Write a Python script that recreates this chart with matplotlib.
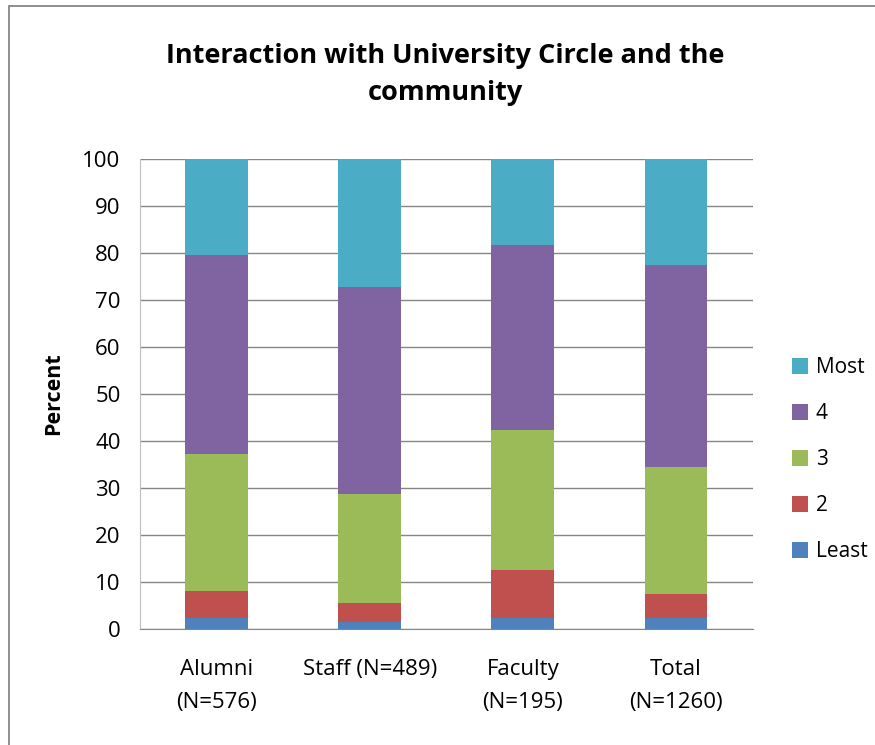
import matplotlib
matplotlib.use("Agg")
import matplotlib.pyplot as plt
from matplotlib.patches import Rectangle

plt.rcParams['font.family'] = ['Open Sans', 'DejaVu Sans']

# data (percent of respondents per group)
groups = ["Alumni\n(N=576)", "Staff (N=489)", "Faculty\n(N=195)", "Total\n(N=1260)"]
levels = ["Least", "2", "3", "4", "Most"]
least = [2.2, 1.5, 2.2, 2.2]
two = [5.9, 4.0, 10.4, 5.2]
three = [29.0, 23.1, 29.6, 27.1]
four = [42.4, 44.1, 39.5, 42.9]
most = [20.5, 27.3, 18.3, 22.6]
colors = ["#4F81BD", "#C0504D", "#9BBB59", "#8064A2", "#4BACC6"]

fig = plt.figure(figsize=(8.75, 7.45), dpi=100)
ax = fig.add_axes([0.16, 0.156, 0.70, 0.631])

# outer chart border (right and bottom edges fall outside the image)
fig.patches.append(Rectangle((0.010, -0.1), 1.2, 1.092, transform=fig.transFigure,
                             fill=False, edgecolor="#868686", linewidth=1.3))

x = range(len(groups))
bottom = [0.0] * len(groups)
handles = []
for vals, lab, col in zip([least, two, three, four, most], levels, colors):
    b = ax.bar(x, vals, width=0.41, bottom=bottom, color=col, label=lab, zorder=3)
    handles.append(b)
    bottom = [p + v for p, v in zip(bottom, vals)]

ax.set_ylim(0, 100)
ax.set_xlim(-0.5, 3.5)
ax.set_yticks(range(0, 101, 10))
ax.yaxis.grid(True, color="#868686", linewidth=1.0, zorder=0)
ax.tick_params(axis="y", length=0, labelsize=16, pad=14)
ax.tick_params(axis="x", length=0, labelsize=16, pad=22)
ax.set_xticks(list(x))
ax.set_xticklabels(groups, linespacing=1.75)

for s in ["top", "right"]:
    ax.spines[s].set_visible(False)
ax.spines["left"].set_color("#BFBFBF")
ax.spines["bottom"].set_color("#868686")

ax.set_ylabel("Percent", fontsize=15.5, fontweight="bold", labelpad=13)
fig.text(0.509, 0.9, "Interaction with University Circle and the\ncommunity",
         fontsize=19.5, fontweight="bold", ha="center", va="center", linespacing=1.55)

leg = fig.legend(handles[::-1], levels[::-1], loc="center left",
                 bbox_to_anchor=(0.905, 0.383), frameon=False, fontsize=15,
                 borderpad=0, borderaxespad=0,
                 labelspacing=1.2, handlelength=0.75, handleheight=0.75, handletextpad=0.4)

fig.savefig("out.png", dpi=100)
